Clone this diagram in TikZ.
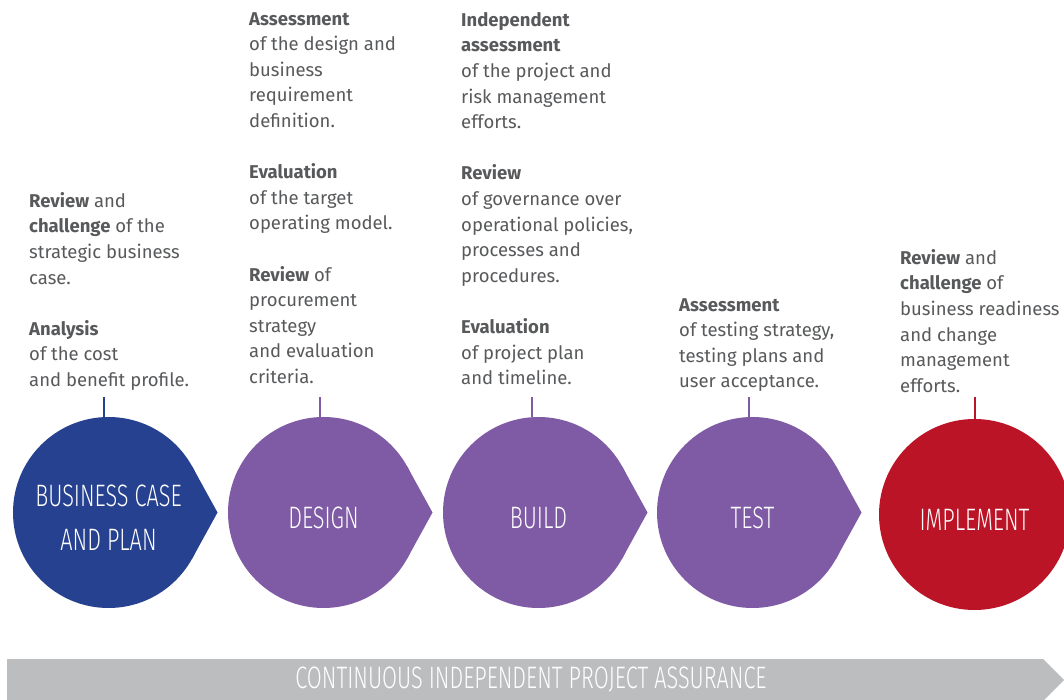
\documentclass[tikz,border=0pt]{standalone}
\usepackage{fontspec}
\setmainfont{Fira Sans}
\newfontfamily\condfont[FakeStretch=0.7]{Fira Sans Light}

\definecolor{bcaseblue}{HTML}{26418F}
\definecolor{stagepurple}{HTML}{7F5BA6}
\definecolor{implred}{HTML}{BA1426}
\definecolor{bargray}{HTML}{BCBDBF}
\definecolor{txtgray}{HTML}{58595B}

\tikzset{
  stage/.style={circle, minimum size=191pt, inner sep=0pt, outer sep=0pt},
  stagelbl/.style={text=white, align=center, inner sep=0pt,
    font=\condfont\fontsize{31}{44}\selectfont},
  notes/.style={anchor=north west, inner sep=0pt, align=left, text=txtgray,
    font=\fontsize{18.5}{25.6}\selectfont},
  tick/.style={line width=2.5pt},
}
% pointed end of a stage circle
\newcommand{\stagetip}[2]{\fill[#2] (#1.29) -- ([xshift=13.5pt]#1.east) -- (#1.-29) -- cycle;}

\begin{document}
\begin{tikzpicture}[x=1pt,y=1pt]
    \useasboundingbox (0,0) rectangle (1064,699);

    % stages
    \node[stage, fill=bcaseblue] (bcase) at (108.5,186.5) {};
    \node[stage, fill=stagepurple] (design) at (323.5,186.5) {};
    \node[stage, fill=stagepurple] (build) at (538.5,186.5) {};
    \node[stage, fill=stagepurple] (test) at (752.5,186.5) {};
    \node[stage, fill=implred] (impl) at (974.5,184.5) {};
    \stagetip{bcase}{bcaseblue}
    \stagetip{design}{stagepurple}
    \stagetip{build}{stagepurple}
    \stagetip{test}{stagepurple}

    \node[stagelbl] (bcaselbl) at ([yshift=-5.5pt]bcase.center) {BUSINESS CASE\\AND PLAN};
    \node[stagelbl] (designlbl) at ([yshift=-5.5pt]design.center) {DESIGN};
    \node[stagelbl] (buildlbl) at ([yshift=-5.5pt]build.center) {BUILD};
    \node[stagelbl] (testlbl) at ([yshift=-5.5pt]test.center) {TEST};
    \node[stagelbl] (impllbl) at ([yshift=-5.5pt]impl.center) {IMPLEMENT};

    % notes above the stages
    \node[notes] (bcasetxt) at (29,507) {\textbf{Review} and\\ \textbf{challenge} of the\\ strategic business\\ case.\\[25.6pt]
      \textbf{Analysis}\\ of the cost\\ and benefit profile.};
    \node[notes] (designtxt) at (249,687) {\textbf{Assessment}\\ of the design and\\ business\\ requirement\\ definition.\\[25.6pt]
      \textbf{Evaluation}\\ of the target\\ operating model.\\[25.6pt]
      \textbf{Review} of\\ procurement\\ strategy\\ and evaluation\\ criteria.};
    \node[notes] (buildtxt) at (461,687) {\textbf{Independent}\\ \textbf{assessment}\\ of the project and\\ risk management\\ efforts.\\[25.6pt]
      \textbf{Review}\\ of governance over\\ operational policies,\\ processes and\\ procedures.\\[25.6pt]
      \textbf{Evaluation}\\ of project plan\\ and timeline.};
    \node[notes] (testtxt) at (679,401) {\textbf{Assessment}\\ of testing strategy,\\ testing plans and\\ user acceptance.};
    \node[notes] (impltxt) at (900,450) {\textbf{Review} and\\ \textbf{challenge} of\\ business readiness\\ and change\\ management\\ efforts.};

    % ticks
    \draw[tick, bcaseblue] ([xshift=-4.5pt]bcase.north) -- ++(0,20);
    \draw[tick, stagepurple] ([xshift=-3.5pt]design.north) -- ++(0,20);
    \draw[tick, stagepurple] ([xshift=-6.5pt]build.north) -- ++(0,20);
    \draw[tick, stagepurple] ([xshift=-3.5pt]test.north) -- ++(0,20);
    \draw[tick, implred] ([xshift=0.5pt]impl.north) -- ++(0,22);

    % assurance bar
    \fill[bargray] (7,-2) -- (7,40) -- (1043,40) -- (1064,19) -- (1043,-2) -- cycle;
    \node[stagelbl] (bar) at (531,19.5) {CONTINUOUS INDEPENDENT PROJECT ASSURANCE};
\end{tikzpicture}
\end{document}
